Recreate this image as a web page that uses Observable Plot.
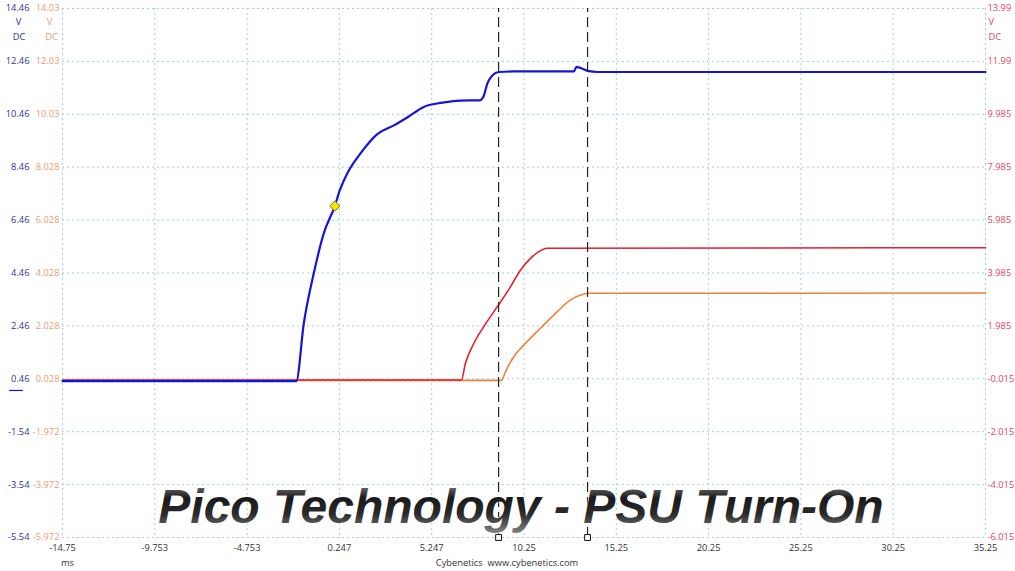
<!DOCTYPE html>
<html><head><meta charset="utf-8">
<script src="https://cdn.jsdelivr.net/npm/d3@7"></script>
<script src="https://cdn.jsdelivr.net/npm/@observablehq/plot@0.6"></script>
<style>
html,body{margin:0;padding:0;background:#fff;}
#chart svg{display:block;}
</style></head><body><div id="chart"></div>
<script>
// ---- tick values / labels ----
const xTicks = [-14.753, -9.753, -4.753, 0.247, 5.247, 10.247, 15.247, 20.247, 25.247, 30.247, 35.247];
const xLabels = ["-14.75","-9.753","-4.753","0.247","5.247","10.25","15.25","20.25","25.25","30.25","35.25"];
const blueTicks = [14.46, 12.46, 10.46, 8.46, 6.46, 4.46, 2.46, 0.46, -1.54, -3.54, -5.54];
const blueLabels = ["14.46","12.46","10.46","8.46","6.46","4.46","2.46","0.46","-1.54","-3.54","-5.54"];
const orangeLabels = ["14.03","12.03","10.03","8.028","6.028","4.028","2.028","0.028","-1.972","-3.972","-5.972"];
const redLabels = ["13.99","11.99","9.985","7.985","5.985","3.985","1.985","-0.015","-2.015","-4.015","-6.015"];
const orangeOffset = 0.432; // blue axis value minus orange axis value
const redOffset = 0.475;    // blue axis value minus red axis value

// ---- series (time in ms, volts in each channel's own units) ----
const blueT = [-14.75, -2.09, -1.68, -1.14, -0.60, 0, 0.27, 0.67, 1.39, 2.30, 3.20, 3.92, 4.82, 5.73, 6.81, 7.86, 8.04, 8.26, 8.53, 8.88, 9.70, 12.95, 13.09, 13.31, 13.76, 14.21, 35.25];
const blueV = [0.37, 0.37, 2.56, 4.45, 5.96, 6.99, 7.59, 8.22, 8.98, 9.71, 10.04, 10.34, 10.74, 10.89, 10.98, 10.99, 11.11, 11.62, 11.93, 12.06, 12.08, 12.08, 12.25, 12.21, 12.09, 12.06, 12.06];
const redT = [-14.75, 6.85, 7.08, 7.53, 8.07, 8.83, 9.52, 10.06, 10.60, 11.14, 11.51, 35.25];
const redV = [-0.06, -0.06, 0.58, 1.33, 1.96, 2.74, 3.47, 4.10, 4.54, 4.83, 4.92, 4.94];
const orangeT = [-14.75, 9.03, 9.20, 9.45, 9.75, 10.24, 11.14, 12.05, 12.77, 13.31, 13.76, 35.25];
const orangeV = [-0.03, -0.03, 0.22, 0.58, 0.92, 1.31, 1.94, 2.57, 3.01, 3.20, 3.26, 3.27];
const cursorT = [8.87, 13.69];
const triggerT = [0];
const triggerV = [6.99];
const title = "Pico Technology - PSU Turn-On";

const BLUE = "#1414dc", RED = "#e6202c", ORANGE = "#f0813c";
const blueData = blueT.map((t, i) => ({t, v: blueV[i]}));
const redData = redT.map((t, i) => ({t, v: redV[i] + redOffset}));
const orangeData = orangeT.map((t, i) => ({t, v: orangeV[i] + orangeOffset}));
const trigger = triggerT.map((t, i) => ({t, v: triggerV[i]}));
const yDom = [d3.min(blueTicks), d3.max(blueTicks)];
const grid = {stroke: "#9fd2dc", strokeOpacity: 1, strokeDasharray: "2,3", strokeWidth: 1};

const chart = Plot.plot({
  width: 1015, height: 571,
  marginTop: 8, marginBottom: 34, marginLeft: 62, marginRight: 30,
  x: {domain: [d3.min(xTicks), d3.max(xTicks)]},
  y: {domain: yDom},
  style: {fontFamily: "'Open Sans', sans-serif", fontSize: "9.3px", background: "#fff"},
  marks: [
    Plot.gridX(xTicks, grid),
    Plot.gridY(blueTicks, grid),
    Plot.axisY(blueTicks, {anchor: "left", tickSize: 0, tickPadding: 33, fill: "#30309c", label: null,
      tickFormat: d => blueLabels[blueTicks.indexOf(d)]}),
    Plot.axisY(blueTicks, {anchor: "left", tickSize: 0, tickPadding: 3, fill: "#f09a74", label: null,
      tickFormat: d => orangeLabels[blueTicks.indexOf(d)]}),
    Plot.axisY(blueTicks, {anchor: "right", tickSize: 0, tickPadding: 2, fill: "#e0445c", label: null,
      tickFormat: d => redLabels[blueTicks.indexOf(d)]}),
    Plot.axisX(xTicks, {anchor: "bottom", tickSize: 0, tickPadding: 7, fill: "#333", label: null,
      tickFormat: d => xLabels[xTicks.indexOf(d)]}),
    Plot.text(["V"], {frameAnchor: "top-left", dx: -44, dy: 14, textAnchor: "middle", lineAnchor: "middle", fill: "#30309c"}),
    Plot.text(["DC"], {frameAnchor: "top-left", dx: -43.5, dy: 29, textAnchor: "middle", lineAnchor: "middle", fill: "#30309c"}),
    Plot.text(["V"], {frameAnchor: "top-left", dx: -13, dy: 14, textAnchor: "middle", lineAnchor: "middle", fill: "#f09a74"}),
    Plot.text(["DC"], {frameAnchor: "top-left", dx: -11, dy: 29, textAnchor: "middle", lineAnchor: "middle", fill: "#f09a74"}),
    Plot.text(["V"], {frameAnchor: "top-right", dx: 3, dy: 14, textAnchor: "start", lineAnchor: "middle", fill: "#e0445c"}),
    Plot.text(["DC"], {frameAnchor: "top-right", dx: 3, dy: 29, textAnchor: "start", lineAnchor: "middle", fill: "#e0445c"}),
    Plot.text(["ms"], {frameAnchor: "bottom-left", dx: 5, dy: 26, textAnchor: "middle", lineAnchor: "middle", fill: "#333"}),
    Plot.text(["Cybenetics\u00a0\u00a0www.cybenetics.com"], {frameAnchor: "bottom", dx: -17, dy: 26, textAnchor: "middle", lineAnchor: "middle", fill: "#333"}),
    Plot.line(orangeData, {x: "t", y: "v", stroke: ORANGE, strokeWidth: 1.6, curve: "monotone-x"}),
    Plot.line(redData, {x: "t", y: "v", stroke: RED, strokeWidth: 1.6, curve: "monotone-x"}),
    Plot.line(blueData, {x: "t", y: "v", stroke: BLUE, strokeWidth: 2.2, curve: "monotone-x"}),
    Plot.ruleX(cursorT, {y1: yDom[0], y2: yDom[1], stroke: "#222", strokeWidth: 1.2, strokeDasharray: "10,5"}),
    Plot.dot(cursorT, {x: d => d, y: yDom[0], symbol: "square", r: 3.3, fill: "#fff", stroke: "#111", strokeWidth: 1}),
    Plot.dot(trigger, {x: "t", y: "v", symbol: "diamond2", r: 4.6, fill: "#f2e600", stroke: "#8a7d00", strokeWidth: 1}),
    Plot.text([title], {frameAnchor: "bottom", dx: -3, dy: -15, lineAnchor: "bottom", textAnchor: "middle",
      fontSize: 48, fontWeight: "bold", fontStyle: "italic", fontFamily: "'Liberation Sans', Arial, sans-serif",
      fill: "url(#titleGrad)", stroke: "#ffffff", strokeWidth: 1.2})
  ]
});

const svg = d3.select(chart);
const defs = svg.insert("defs", ":first-child");
const g = defs.append("linearGradient").attr("id", "titleGrad").attr("x1", 0).attr("y1", 0).attr("x2", 0).attr("y2", 1);
g.append("stop").attr("offset", "0%").attr("stop-color", "#9a9a9a");
g.append("stop").attr("offset", "35%").attr("stop-color", "#1a1a1a");
g.append("stop").attr("offset", "65%").attr("stop-color", "#2a2a2a");
g.append("stop").attr("offset", "100%").attr("stop-color", "#808080");
// blue channel zero marker
const y0 = chart.scale("y").apply(0);
svg.append("line").attr("x1", 9).attr("x2", 23).attr("y1", y0).attr("y2", y0).attr("stroke", BLUE).attr("stroke-width", 1.2);
document.getElementById("chart").appendChild(chart);
</script>
</body></html>
